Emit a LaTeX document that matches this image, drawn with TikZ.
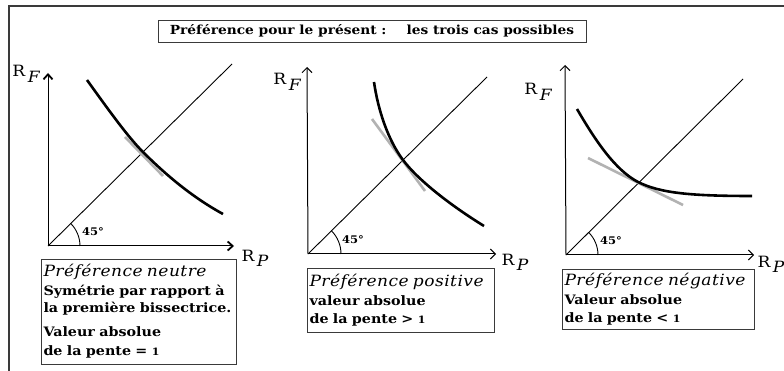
\documentclass[tikz,border=0pt]{standalone}
\usepackage{xcolor}
\usepackage{fontspec}
\setmainfont{DejaVu Serif}[FakeStretch=1.1]
\newfontfamily\titital[LetterSpace=3.0,FakeStretch=1.1]{DejaVu Serif}
\usetikzlibrary{arrows.meta,positioning}
\definecolor{Encre}{HTML}{000000}
\definecolor{Bord}{HTML}{3A3A3A}
\definecolor{Gris}{HTML}{B2B2B2}
\newcommand{\Rind}[2]{R\,\raisebox{#2}{\itshape #1}}
\newcommand{\entete}[1]{{\titital\mdseries\itshape\fontsize{15.5}{18}\selectfont #1}}
\newcommand{\un}{{\fontsize{10}{10}\selectfont 1}}
\tikzset{cadre/.style={draw=Bord,line width=1.6pt},titre/.style={rectangle,draw=Bord,line width=0.9pt,minimum width=428pt,minimum height=22pt,inner sep=2pt,font=\fontsize{12.5}{14}\selectfont\bfseries},axegras/.style={draw=Encre,line width=1pt,-{Straight Barb[length=5pt,width=9pt,line width=1.8pt]}},axefin/.style={draw=Encre,line width=1pt,-{Straight Barb[length=5pt,width=10pt]}},bissec/.style={draw=Encre,line width=0.9pt},courbe/.style={draw=Encre,line width=2.6pt},tangente/.style={draw=Gris,line width=2.6pt},etiq/.style={inner sep=0pt,font=\fontsize{15.5}{18}\selectfont},angle/.style={inner sep=0pt,font=\fontsize{10.5}{12}\selectfont\bfseries},legende/.style={rectangle,draw=Bord,line width=0.9pt,align=left,inner xsep=2.5pt,inner ysep=3pt,font=\fontsize{13}{17}\selectfont\bfseries,execute at begin node={\hyphenpenalty=10000\relax}}}
\begin{document}
\begin{tikzpicture}[x=1pt,y=-1pt]
\useasboundingbox (0,0) rectangle (784,371);
\fill[white] (0,0) rectangle (784,371);
\draw[cadre] (784,6)--(9,6)--(9,371);
\node[titre] (titre) at (372,31) {Préférence pour le présent :\hspace{20pt}les trois cas possibles};
% neutre
\coordinate (O1) at (48,246);\coordinate (X1) at (234,246);\coordinate (Y1) at (48,73);\coordinate (D1) at (232,64);
\draw[bissec] (O1)--(D1);\draw[axegras] (O1)--(X1);\draw[axegras] (O1)--(Y1);
\draw[bissec] (O1) ++(32pt,0) arc[start angle=0,end angle=45,radius=32pt];
\draw[tangente] (125,137)--(163,176);
\draw[courbe] (87,80) .. controls (110,112) and (128,137) .. (143,152) .. controls (163,172) and (190,196) .. (223,214);
\node[etiq] (rf1) at (26,74) {\Rind{F}{-6pt}};\node[etiq] (rp1) at (255,258) {\Rind{P}{-5pt}};
\node[angle] (a1) at (93,232) {45\textdegree};
\node[legende,minimum width=195pt,minimum height=105pt,text width=190pt] (b1) at (138.5,311.5) {\entete{Préférence neutre}\\[2pt]Symétrie par rapport à\\la première bissectrice.\\[7pt]Valeur absolue\\[2pt]de la pente = \un};
% positive
\coordinate (O2) at (308,254);\coordinate (X2) at (496,254);\coordinate (Y2) at (307,67);\coordinate (D2) at (487,77);
\draw[bissec] (O2)--(D2);\draw[axefin] (O2)--(X2);\draw[axefin] (O2)--(Y2);
\draw[bissec] (O2) ++(33pt,0) arc[start angle=0,end angle=45,radius=33pt];
\draw[tangente] (372,119)--(425,191);
\draw[courbe] (374,82) .. controls (378,110) and (388,140) .. (403,160) .. controls (418,180) and (450,205) .. (484,226);
\node[etiq] (rf2) at (287,82) {\Rind{F}{-6pt}};\node[etiq] (rp2) at (515,262) {\Rind{P}{-5pt}};
\node[angle] (a2) at (353,240) {45\textdegree};
\node[legende,minimum width=187pt,minimum height=64pt,text width=182pt] (b2) at (400.5,300) {\entete{Préférence positive}\\[2pt]valeur absolue\\[1pt]de la pente > \un};
% negative
\coordinate (O3) at (566,255);\coordinate (X3) at (754,255);\coordinate (Y3) at (565,65);\coordinate (D3) at (743,79);
\draw[bissec] (O3)--(D3);\draw[axefin] (O3)--(X3);\draw[axefin] (O3)--(Y3);
\draw[bissec] (O3) ++(32pt,0) arc[start angle=0,end angle=45,radius=32pt];
\draw[tangente] (588,158)--(683,205);
\draw[courbe] (577,109) .. controls (595,140) and (615,170) .. (638,182) .. controls (660,193) and (690,196) .. (752,196);
\node[etiq] (rf3) at (538,92) {\Rind{F}{-6pt}};\node[etiq] (rp3) at (771,264) {\Rind{P}{-5pt}};
\node[angle] (a3) at (611,241) {45\textdegree};
\node[legende,minimum width=192pt,minimum height=60pt,text width=187pt] (b3) at (658,299) {\entete{Préférence négative}\\[2pt]Valeur absolue\\[1pt]de la pente < \un};
\end{tikzpicture}
\end{document}
